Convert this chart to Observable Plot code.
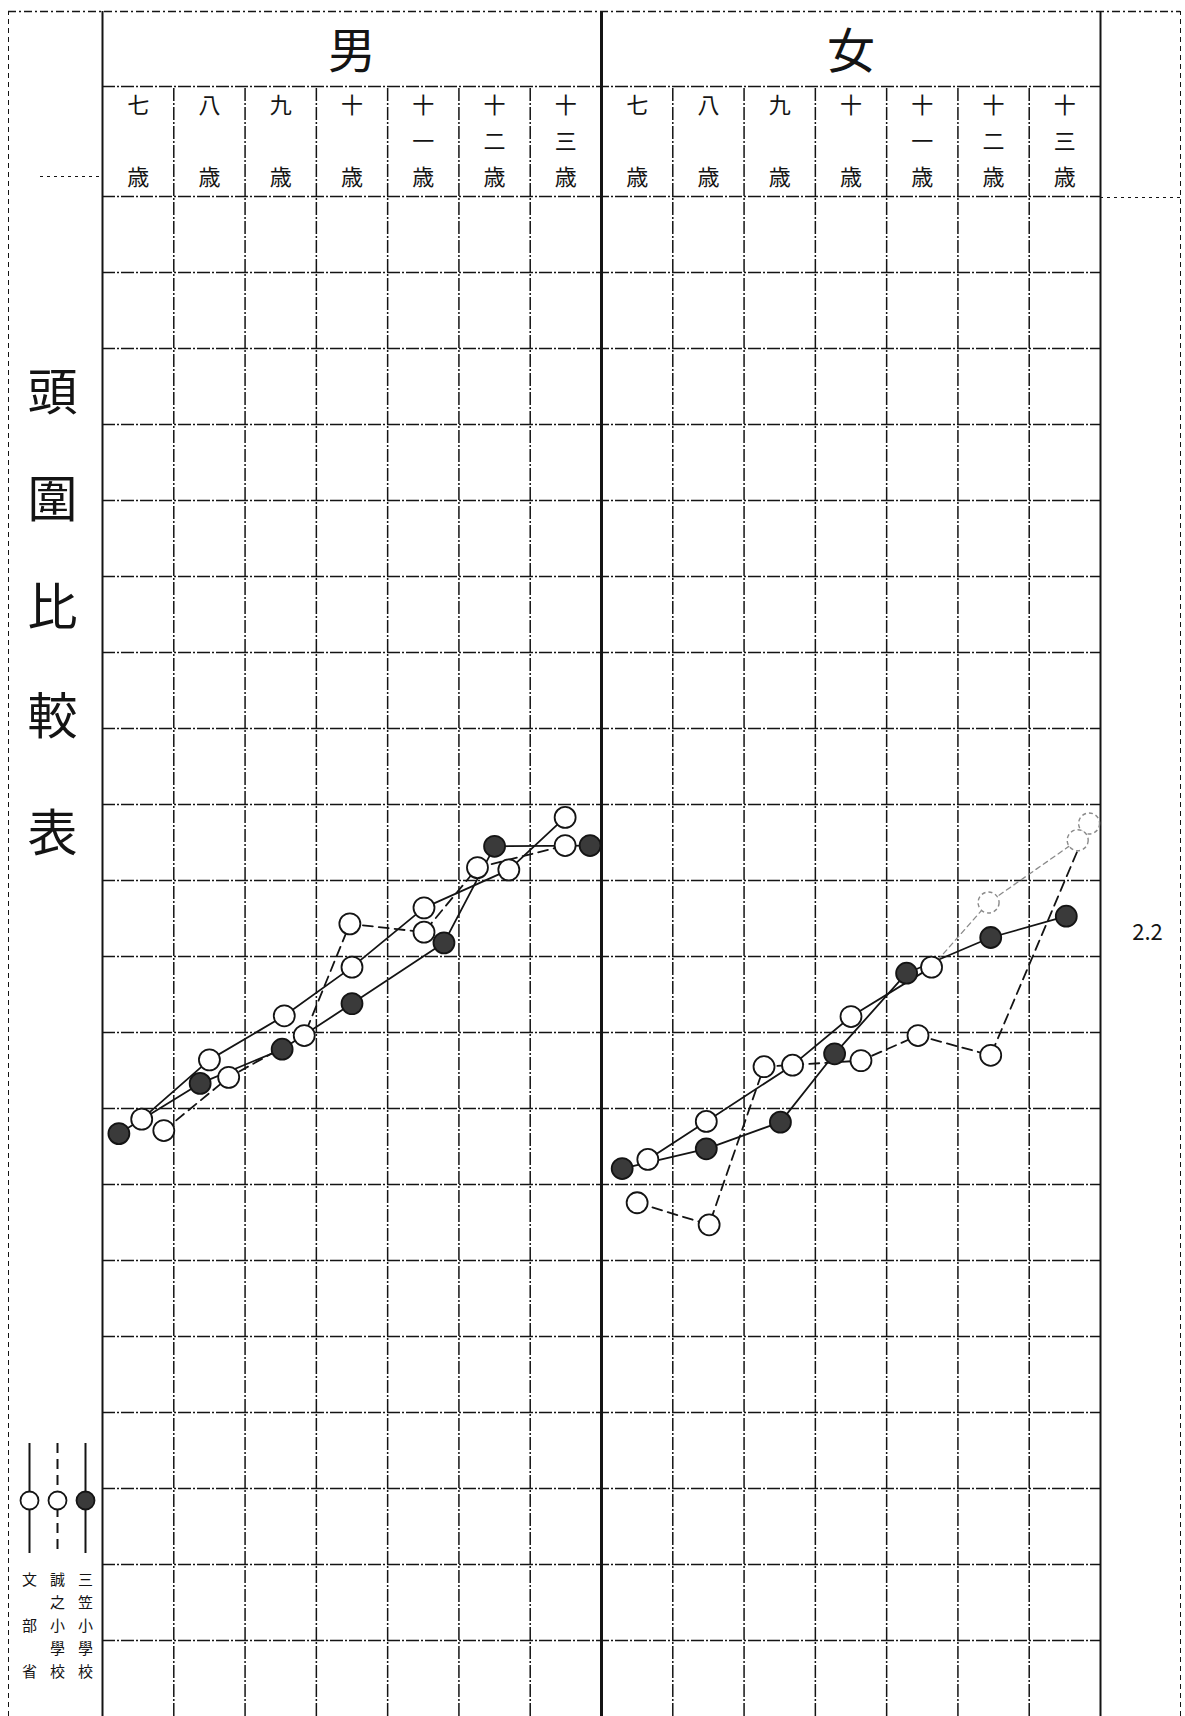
<!DOCTYPE html>
<html>
<head>
<meta charset="utf-8">
<script src="https://cdn.jsdelivr.net/npm/d3@7"></script>
<script src="https://cdn.jsdelivr.net/npm/@observablehq/plot@0.6"></script>
<style>
  html, body { margin: 0; padding: 0; background: #fff; overflow: hidden; }
  #chart svg { display: block; }
</style>
</head>
<body>
<div id="chart"></div>
<script>
// ---------------- data ----------------
const ages = [7, 8, 9, 10, 11, 12, 13];
const ageLabels = ["七", "八", "九", "十", "十一", "十二", "十三"];
const ageSuffix = "歳";
const sexes = ["男", "女"];
const schools = ["三笠小學校", "誠之小學校", "文部省"];
const title = "頭圍比較表";
const sideNote = "2.2";

// x: horizontal position of each point, in ages (column centre = that age)
// y: vertical position of each point, in grid rows counted from the bottom edge
const maleMikasaX  = [6.73, 7.87, 9.02, 10.00, 11.29, 12.00, 13.34];
const maleMikasaY  = [7.67, 8.33, 8.78, 9.38, 10.18, 11.45, 11.46];
const maleSeishiX  = [7.36, 8.27, 9.33, 9.97, 11.01, 11.76, 12.99];
const maleSeishiY  = [7.71, 8.41, 8.96, 10.43, 10.32, 11.17, 11.46];
const maleMonbuX   = [7.05, 8.00, 9.05, 10.00, 11.01, 12.20, 12.99];
const maleMonbuY   = [7.86, 8.64, 9.22, 9.86, 10.64, 11.14, 11.83];

const femaleMikasaX = [6.79, 7.97, 9.01, 9.77, 10.78, 11.96, 13.02];
const femaleMikasaY = [7.21, 7.47, 7.82, 8.72, 9.78, 10.25, 10.53];
const femaleSeishiX = [7.00, 8.01, 8.78, 10.14, 10.94, 11.96, 13.34];
const femaleSeishiY = [6.76, 6.47, 8.55, 8.63, 8.96, 8.70, 11.75];
const femaleMonbuX  = [7.15, 7.97, 9.18, 10.00, 11.13, 11.93, 13.18];
const femaleMonbuY  = [7.33, 7.83, 8.57, 9.21, 9.86, 10.71, 11.53];

// ---------------- layout helpers ----------------
const W = 1185, H = 1716;
const LEFT = 102, RIGHT_EDGE = 1100, TOP_GRID = 196;
const COLS = 14, ROWS = 20;
const colW = (RIGHT_EDGE - LEFT) / COLS;
const rowH = (H - TOP_GRID) / ROWS;
const px2u = px => (px - LEFT) / colW;
const py2v = py => (H - py) / rowH;

const series = [
  {sex: "男", school: schools[0], xs: maleMikasaX, ys: maleMikasaY},
  {sex: "男", school: schools[1], xs: maleSeishiX, ys: maleSeishiY},
  {sex: "男", school: schools[2], xs: maleMonbuX, ys: maleMonbuY},
  {sex: "女", school: schools[0], xs: femaleMikasaX, ys: femaleMikasaY},
  {sex: "女", school: schools[1], xs: femaleSeishiX, ys: femaleSeishiY},
  {sex: "女", school: schools[2], xs: femaleMonbuX, ys: femaleMonbuY}
];

// points drawn faintly (pencil-like) in the original
const faintKeys = new Set(["女|文部省|5", "女|文部省|6", "女|誠之小學校|6"]);
const faintLineFrom = {"女|文部省": 4};

const rows = [];
for (const s of series) {
  const panel = sexes.indexOf(s.sex);
  s.xs.forEach((x, i) => {
    rows.push({
      sex: s.sex, school: s.school, age: ages[i], i,
      u: panel * 7 + (x - ages[0] + 0.5),
      v: s.ys[i],
      faint: faintKeys.has(`${s.sex}|${s.school}|${i}`)
    });
  });
}

function lineRows(school, part) {
  return rows.filter(d => {
    if (d.school !== school) return false;
    const f = faintLineFrom[`${d.sex}|${d.school}`];
    if (f === undefined) return part === "main";
    return part === "main" ? d.i <= f : d.i >= f;
  });
}

// ---------------- grid & frame ----------------
const topV = py2v(11);
const hdrV = py2v(86);
const leftOuter = px2u(8);
const rightOuter = px2u(1180);
const innerCols = d3.range(1, 14).filter(c => c !== 7);

const ink = "#141414";
const gridDash = "13,2,2,2";

// header texts
const sexLabels = sexes.map((s, p) => ({u: p * 7 + 3.5, v: py2v(52), t: s}));
const ageChars = [];
sexes.forEach((s, p) => {
  ageLabels.forEach((lab, i) => {
    const chars = lab.length === 1 ? [lab, "", ageSuffix] : [lab[0], lab[1], ageSuffix];
    const ys = [105, 141, 177];
    chars.forEach((c, k) => { if (c) ageChars.push({u: p * 7 + i + 0.5, v: py2v(ys[k]), t: c}); });
  });
});

// title (vertical, left column)
const titleYs = [393, 500, 608, 717, 834];
const titleChars = [...title].map((c, k) => ({u: px2u(52), v: py2v(titleYs[k]), t: c}));

// legend (vertical, bottom-left): left→right 文部省, 誠之, 三笠
const legendOrder = [schools[2], schools[1], schools[0]];
const legendXs = [29, 57, 85];
const legendItems = legendOrder.map((s, k) => ({school: s, u: px2u(legendXs[k])}));
const legendChars = [];
legendItems.forEach(it => {
  const chars = [...it.school];
  const ys = chars.length === 3 ? [1580, 1626, 1672] : [1580, 1603, 1626, 1649, 1672];
  chars.forEach((c, k) => legendChars.push({u: it.u, v: py2v(ys[k]), t: c}));
});

const font = "'Noto Sans CJK JP', 'Noto Sans CJK TC', sans-serif";

const chart = Plot.plot({
  width: W,
  height: H,
  marginLeft: LEFT,
  marginRight: W - RIGHT_EDGE,
  marginTop: TOP_GRID,
  marginBottom: 0,
  x: {domain: [0, COLS], axis: null},
  y: {domain: [0, ROWS], axis: null},
  style: {background: "#fff", fontFamily: font, color: ink},
  marks: [
    // horizontal grid
    Plot.ruleY(d3.range(1, ROWS + 1), {x1: 0, x2: COLS, stroke: ink, strokeWidth: 1.5, strokeDasharray: gridDash}),
    // header divider and top frame
    Plot.ruleY([hdrV], {x1: 0, x2: COLS, stroke: ink, strokeWidth: 1.4, strokeDasharray: gridDash}),
    Plot.ruleY([topV], {x1: leftOuter, x2: rightOuter, stroke: ink, strokeWidth: 1.3, strokeDasharray: "8,3,2,3"}),
    Plot.ruleY([py2v(176)], {x1: px2u(40), x2: 0, stroke: ink, strokeWidth: 1, strokeDasharray: "3,4"}),
    Plot.ruleY([py2v(197)], {x1: COLS, x2: rightOuter, stroke: ink, strokeWidth: 1, strokeDasharray: "3,4"}),
    // column lines
    Plot.ruleX(innerCols, {y1: 0, y2: hdrV, stroke: ink, strokeWidth: 1.5, strokeDasharray: gridDash}),
    Plot.ruleX([0, COLS], {y1: 0, y2: topV, stroke: ink, strokeWidth: 2}),
    Plot.ruleX([7], {y1: 0, y2: topV, stroke: ink, strokeWidth: 3}),
    Plot.ruleX([leftOuter, rightOuter], {y1: 0, y2: topV, stroke: ink, strokeWidth: 1, strokeDasharray: "5,4"}),

    // header text
    Plot.text(sexLabels, {x: "u", y: "v", text: "t", fontSize: 48, fill: ink}),
    Plot.text(ageChars, {x: "u", y: "v", text: "t", fontSize: 22, fill: ink}),
    Plot.text(titleChars, {x: "u", y: "v", text: "t", fontSize: 50, fill: ink}),
    Plot.text([{u: px2u(1147), v: py2v(932), t: sideNote}], {x: "u", y: "v", text: "t", fontSize: 22, fill: ink}),

    // data lines
    Plot.line(lineRows(schools[0], "main"), {x: "u", y: "v", z: "sex", stroke: ink, strokeWidth: 1.8}),
    Plot.line(lineRows(schools[2], "main"), {x: "u", y: "v", z: "sex", stroke: ink, strokeWidth: 1.8}),
    Plot.line(lineRows(schools[2], "faint"), {x: "u", y: "v", z: "sex", stroke: "#8a8a8a", strokeWidth: 1.3, strokeDasharray: "5,4"}),
    Plot.line(lineRows(schools[1], "main"), {x: "u", y: "v", z: "sex", stroke: ink, strokeWidth: 1.8, strokeDasharray: "10,6"}),

    // data points
    Plot.dot(rows.filter(d => !d.faint), {
      x: "u", y: "v", r: 10.5,
      fill: d => d.school === schools[0] ? "#3a3a3a" : "#fff",
      stroke: ink, strokeWidth: 1.8
    }),
    Plot.dot(rows.filter(d => d.faint), {
      x: "u", y: "v", r: 10.5, fill: "#fff", stroke: "#8a8a8a", strokeWidth: 1.4, strokeDasharray: "4,3"
    }),

    // legend
    Plot.ruleX(legendItems.filter(d => d.school !== schools[1]), {
      x: "u", y1: py2v(1443), y2: py2v(1553), stroke: ink, strokeWidth: 2
    }),
    Plot.ruleX(legendItems.filter(d => d.school === schools[1]), {
      x: "u", y1: py2v(1443), y2: py2v(1553), stroke: ink, strokeWidth: 2, strokeDasharray: "10,6"
    }),
    Plot.dot(legendItems, {
      x: "u", y: py2v(1500), r: 9,
      fill: d => d.school === schools[0] ? "#3a3a3a" : "#fff",
      stroke: ink, strokeWidth: 1.8
    }),
    Plot.text(legendChars, {x: "u", y: "v", text: "t", fontSize: 15, fill: ink})
  ]
});

document.getElementById("chart").appendChild(chart);
</script>
</body>
</html>
